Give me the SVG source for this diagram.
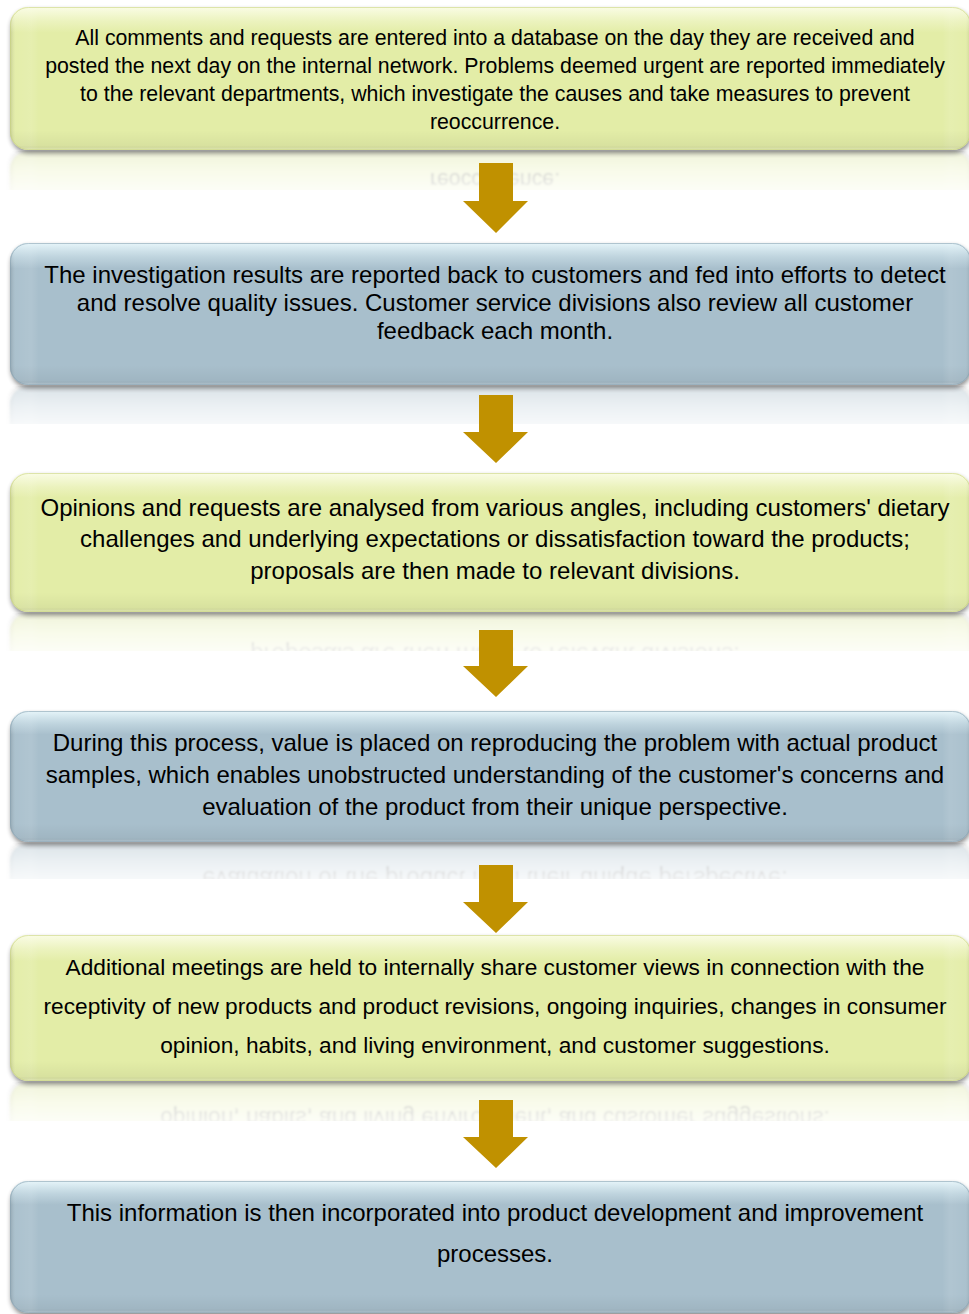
<svg xmlns="http://www.w3.org/2000/svg" xmlns:xlink="http://www.w3.org/1999/xlink" width="969" height="1314" viewBox="0 0 969 1314">
  <style>
    .t { font-family: "Liberation Sans", Arial, sans-serif; fill: #000; text-anchor: middle; }
    .f21 { font-size: 21.3px; }
    .f24 { font-size: 24px; }
    .f23 { font-size: 22.7px; }
    .yel { fill: #e3eda7; }
    .blu { fill: #a8bfcc; }
    .shadow { fill: #000; opacity: 0.45; filter: url(#soft); }
    .hiY { fill: url(#topHiY); }
    .hiB { fill: url(#topHiB); }
    .sides { fill: url(#sideShade); }
    .bottom { fill: url(#bottomShade); }
    .edgeY { fill: none; stroke: #c9d482; stroke-width: 1; opacity: 0.6; }
    .edgeB { fill: none; stroke: #8aa3b2; stroke-width: 1; opacity: 0.6; }
    .arrow { fill: #c09100; }
    .refl { filter: url(#reflBlur); }
  </style>
  <defs>
    <filter id="soft" x="-5%" y="-20%" width="110%" height="140%">
      <feGaussianBlur stdDeviation="2.5"/>
    </filter>
    <filter id="reflBlur" x="-5%" y="-20%" width="110%" height="140%">
      <feGaussianBlur stdDeviation="0.8"/>
    </filter>
    <linearGradient id="topHiY" x1="0" y1="0" x2="0" y2="1">
      <stop offset="0" stop-color="#fbfde8" stop-opacity="0.95"/>
      <stop offset="0.1" stop-color="#fbfde8" stop-opacity="0.35"/>
      <stop offset="0.18" stop-color="#fbfde8" stop-opacity="0"/>
    </linearGradient>
    <linearGradient id="topHiB" x1="0" y1="0" x2="0" y2="1">
      <stop offset="0" stop-color="#eaf8fc" stop-opacity="0.95"/>
      <stop offset="0.1" stop-color="#e0f2f8" stop-opacity="0.4"/>
      <stop offset="0.18" stop-color="#e0f2f8" stop-opacity="0"/>
    </linearGradient>
    <linearGradient id="sideShade" x1="0" y1="0" x2="1" y2="0">
      <stop offset="0" stop-color="#000" stop-opacity="0.14"/>
      <stop offset="0.006" stop-color="#fff" stop-opacity="0.04"/>
      <stop offset="0.022" stop-color="#fff" stop-opacity="0.1"/>
      <stop offset="0.03" stop-color="#fff" stop-opacity="0"/>
      <stop offset="0.97" stop-color="#fff" stop-opacity="0"/>
      <stop offset="0.978" stop-color="#fff" stop-opacity="0.1"/>
      <stop offset="0.994" stop-color="#fff" stop-opacity="0.04"/>
      <stop offset="1" stop-color="#000" stop-opacity="0.14"/>
    </linearGradient>
    <linearGradient id="bottomShade" x1="0" y1="0" x2="0" y2="1">
      <stop offset="0.86" stop-color="#000" stop-opacity="0"/>
      <stop offset="0.97" stop-color="#000" stop-opacity="0.05"/>
      <stop offset="1" stop-color="#fff" stop-opacity="0.25"/>
    </linearGradient>
    <linearGradient id="fade" x1="0" y1="0" x2="0" y2="1">
      <stop offset="0" stop-color="#fff" stop-opacity="0.38"/>
      <stop offset="1" stop-color="#fff" stop-opacity="0.1"/>
    </linearGradient>
    <mask id="m1" maskUnits="userSpaceOnUse" x="0" y="151" width="969" height="39">
      <rect x="0" y="151" width="969" height="39" fill="url(#fade)"/>
    </mask>
    <mask id="m2" maskUnits="userSpaceOnUse" x="0" y="386" width="969" height="38">
      <rect x="0" y="386" width="969" height="38" fill="url(#fade)"/>
    </mask>
    <mask id="m3" maskUnits="userSpaceOnUse" x="0" y="613" width="969" height="38">
      <rect x="0" y="613" width="969" height="38" fill="url(#fade)"/>
    </mask>
    <mask id="m4" maskUnits="userSpaceOnUse" x="0" y="843" width="969" height="36">
      <rect x="0" y="843" width="969" height="36" fill="url(#fade)"/>
    </mask>
    <mask id="m5" maskUnits="userSpaceOnUse" x="0" y="1082" width="969" height="39">
      <rect x="0" y="1082" width="969" height="39" fill="url(#fade)"/>
    </mask>
  </defs>

  <rect width="969" height="1314" fill="#fff"/>

  <!-- mirrored reflections under each step -->
  <g id="reflections">
    <g mask="url(#m1)"><use class="refl" href="#node1" transform="translate(0,302) scale(1,-1)"/></g>
    <g mask="url(#m2)"><use class="refl" href="#node2" transform="translate(0,772) scale(1,-1)"/></g>
    <g mask="url(#m3)"><use class="refl" href="#node3" transform="translate(0,1226) scale(1,-1)"/></g>
    <g mask="url(#m4)"><use class="refl" href="#node4" transform="translate(0,1686) scale(1,-1)"/></g>
    <g mask="url(#m5)"><use class="refl" href="#node5" transform="translate(0,2164) scale(1,-1)"/></g>
  </g>

  <g id="node1">
    <rect class="shadow" x="11" y="10" width="960" height="143" rx="18"/>
    <rect class="yel" x="10" y="7" width="961" height="143" rx="18"/>
    <rect class="sides" x="10" y="7" width="961" height="143" rx="18"/>
    <rect class="hiY" x="10" y="7" width="961" height="143" rx="18"/>
    <rect class="bottom" x="10" y="7" width="961" height="143" rx="18"/>
    <rect class="edgeY" x="10.5" y="7.5" width="960" height="142" rx="18"/>
    <text class="t f21" x="495" y="45.3">All comments and requests are entered into a database on the day they are received and</text>
    <text class="t f21" x="495" y="73">posted the next day on the internal network. Problems deemed urgent are reported immediately</text>
    <text class="t f21" x="495" y="100.8">to the relevant departments, which investigate the causes and take measures to prevent</text>
    <text class="t f21" x="495" y="128.6">reoccurrence.</text>
  </g>

  <g id="node2">
    <rect class="shadow" x="11" y="246" width="960" height="142" rx="18"/>
    <rect class="blu" x="10" y="243" width="961" height="142" rx="18"/>
    <rect class="sides" x="10" y="243" width="961" height="142" rx="18"/>
    <rect class="hiB" x="10" y="243" width="961" height="142" rx="18"/>
    <rect class="bottom" x="10" y="243" width="961" height="142" rx="18"/>
    <rect class="edgeB" x="10.5" y="243.5" width="960" height="141" rx="18"/>
    <text class="t f24" x="495" y="283.3">The investigation results are reported back to customers and fed into efforts to detect</text>
    <text class="t f24" x="495" y="311">and resolve quality issues. Customer service divisions also review all customer</text>
    <text class="t f24" x="495" y="338.7">feedback each month.</text>
  </g>

  <g id="node3">
    <rect class="shadow" x="11" y="476" width="960" height="139" rx="18"/>
    <rect class="yel" x="10" y="473" width="961" height="139" rx="18"/>
    <rect class="sides" x="10" y="473" width="961" height="139" rx="18"/>
    <rect class="hiY" x="10" y="473" width="961" height="139" rx="18"/>
    <rect class="bottom" x="10" y="473" width="961" height="139" rx="18"/>
    <rect class="edgeY" x="10.5" y="473.5" width="960" height="138" rx="18"/>
    <text class="t f24" x="495" y="515.5">Opinions and requests are analysed from various angles, including customers' dietary</text>
    <text class="t f24" x="495" y="547.1">challenges and underlying expectations or dissatisfaction toward the products;</text>
    <text class="t f24" x="495" y="578.7">proposals are then made to relevant divisions.</text>
  </g>

  <g id="node4">
    <rect class="shadow" x="11" y="714" width="960" height="131" rx="18"/>
    <rect class="blu" x="10" y="711" width="961" height="131" rx="18"/>
    <rect class="sides" x="10" y="711" width="961" height="131" rx="18"/>
    <rect class="hiB" x="10" y="711" width="961" height="131" rx="18"/>
    <rect class="bottom" x="10" y="711" width="961" height="131" rx="18"/>
    <rect class="edgeB" x="10.5" y="711.5" width="960" height="130" rx="18"/>
    <text class="t f24" x="495" y="751">During this process, value is placed on reproducing the problem with actual product</text>
    <text class="t f24" x="495" y="783">samples, which enables unobstructed understanding of the customer's concerns and</text>
    <text class="t f24" x="495" y="815">evaluation of the product from their unique perspective.</text>
  </g>

  <g id="node5">
    <rect class="shadow" x="11" y="938" width="960" height="146" rx="18"/>
    <rect class="yel" x="10" y="935" width="961" height="146" rx="18"/>
    <rect class="sides" x="10" y="935" width="961" height="146" rx="18"/>
    <rect class="hiY" x="10" y="935" width="961" height="146" rx="18"/>
    <rect class="bottom" x="10" y="935" width="961" height="146" rx="18"/>
    <rect class="edgeY" x="10.5" y="935.5" width="960" height="145" rx="18"/>
    <text class="t f23" x="495" y="975">Additional meetings are held to internally share customer views in connection with the</text>
    <text class="t f23" x="495" y="1014">receptivity of new products and product revisions, ongoing inquiries, changes in consumer</text>
    <text class="t f23" x="495" y="1053">opinion, habits, and living environment, and customer suggestions.</text>
  </g>

  <g id="node6">
    <rect class="shadow" x="11" y="1184" width="960" height="132" rx="18"/>
    <rect class="blu" x="10" y="1181" width="961" height="132" rx="18"/>
    <rect class="sides" x="10" y="1181" width="961" height="132" rx="18"/>
    <rect class="hiB" x="10" y="1181" width="961" height="132" rx="18"/>
    <rect class="bottom" x="10" y="1181" width="961" height="132" rx="18"/>
    <rect class="edgeB" x="10.5" y="1181.5" width="960" height="131" rx="18"/>
    <text class="t f24" x="495" y="1221">This information is then incorporated into product development and improvement</text>
    <text class="t f24" x="495" y="1262">processes.</text>
  </g>

  <!-- downward block arrows between steps -->
  <g id="connectors">
    <polygon class="arrow" points="479,163 513,163 513,201 528,201 496,233 463,201 479,201"/>
    <polygon class="arrow" points="479,395 513,395 513,432 528,432 496,463 463,432 479,432"/>
    <polygon class="arrow" points="479,630 513,630 513,666 528,666 496,697 463,666 479,666"/>
    <polygon class="arrow" points="479,865 513,865 513,902 528,902 496,933 463,902 479,902"/>
    <polygon class="arrow" points="479,1100 513,1100 513,1137 528,1137 496,1168 463,1137 479,1137"/>
  </g>
</svg>
